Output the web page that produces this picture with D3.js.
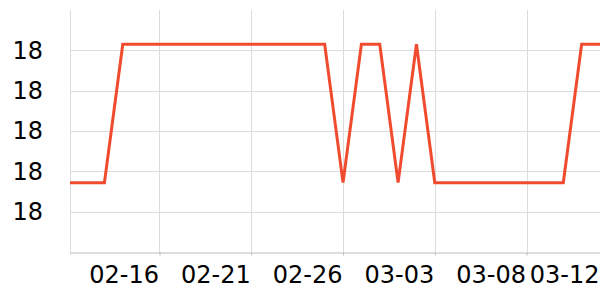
<!DOCTYPE html>
<html>
<head>
<meta charset="utf-8">
<script src="https://cdn.jsdelivr.net/npm/d3@7"></script>
<style>
  body { margin: 0; background: #fff; }
  text { font-family: "DejaVu Sans", sans-serif; }
</style>
</head>
<body>
<script>
// daily readings, 02-11 .. 03-12
var dates = ["02-11","02-12","02-13","02-14","02-15","02-16","02-17","02-18","02-19","02-20",
             "02-21","02-22","02-23","02-24","02-25","02-26","02-27","02-28","03-01","03-02",
             "03-03","03-04","03-05","03-06","03-07","03-08","03-09","03-10","03-11","03-12"];
var values = [18.0172,18.0172,18.0172,18.0515,18.0515,18.0515,18.0515,18.0515,18.0515,18.0515,
              18.0515,18.0515,18.0515,18.0515,18.0515,18.0172,18.0515,18.0515,18.0172,18.0515,
              18.0172,18.0172,18.0172,18.0172,18.0172,18.0172,18.0172,18.0172,18.0515,18.0515];
var yTicks = [18.01, 18.02, 18.03, 18.04, 18.05];
var xTickLabels = ["02-16","02-21","02-26","03-03","03-08","03-12"];

var width = 600, height = 300;
var margin = {top: 10, right: 0, bottom: 48, left: 70};
var parse = d3.timeParse("%Y-%m-%d");
var data = dates.map(function(d, i) { return {date: parse("2023-" + d), value: values[i]}; });

var svg = d3.select("body").append("svg")
    .attr("width", width)
    .attr("height", height);

var start = d3.timeHour.offset(data[0].date, 3.4);
var x = d3.scaleTime()
    .domain([start, data[data.length - 1].date])
    .range([margin.left, width - margin.right]);
var y = d3.scaleLinear()
    .domain([18.0, 18.06])
    .range([height - margin.bottom, margin.top]);

var tickDates = xTickLabels.map(function(d) { return parse("2023-" + d); });

// grid
svg.append("g").selectAll("line").data(yTicks).enter().append("line")
    .attr("x1", margin.left).attr("x2", width - margin.right)
    .attr("y1", function(d) { return Math.round(y(d)) + 0.5; })
    .attr("y2", function(d) { return Math.round(y(d)) + 0.5; })
    .attr("stroke", "#dcdcdc");
svg.append("g").selectAll("line").data(tickDates).enter().append("line")
    .attr("x1", function(d) { return Math.round(x(d)) + 0.5; })
    .attr("x2", function(d) { return Math.round(x(d)) + 0.5; })
    .attr("y1", margin.top).attr("y2", height - margin.bottom)
    .attr("stroke", "#dcdcdc");
svg.append("line")
    .attr("x1", margin.left + 0.5).attr("x2", margin.left + 0.5)
    .attr("y1", margin.top).attr("y2", height - margin.bottom + 3)
    .attr("stroke", "#dcdcdc");

// x axis
var xAxis = d3.axisBottom(x)
    .tickValues(tickDates)
    .tickFormat(d3.timeFormat("%m-%d"))
    .tickSize(3)
    .tickSizeOuter(0);
var gx = svg.append("g")
    .attr("transform", "translate(0," + (Math.round(y(18.0)) + 0.5) + ")")
    .call(xAxis);
gx.select(".domain").attr("stroke", "#bbbbbb");
gx.selectAll(".tick line").attr("stroke", "#bbbbbb");
gx.selectAll(".tick text")
    .attr("text-anchor", "end")
    .attr("dx", "-1")
    .attr("y", 30)
    .attr("dy", 0)
    .attr("font-size", 24)
    .attr("font-family", "DejaVu Sans, sans-serif")
    .attr("fill", "#000");

// y axis labels
var yAxis = d3.axisLeft(y)
    .tickValues(yTicks)
    .tickFormat(d3.format(".0f"))
    .tickSize(0)
    .tickPadding(27);
var gy = svg.append("g")
    .attr("transform", "translate(" + margin.left + ",0)")
    .call(yAxis);
gy.select(".domain").remove();
gy.selectAll(".tick text")
    .attr("font-size", 24)
    .attr("font-family", "DejaVu Sans, sans-serif")
    .attr("fill", "#000");

// line
svg.append("clipPath").attr("id", "clip")
  .append("rect")
    .attr("x", margin.left).attr("y", 0)
    .attr("width", width - margin.left - margin.right)
    .attr("height", height);

var line = d3.line()
    .x(function(d) { return x(d.date); })
    .y(function(d) { return y(d.value); });

svg.append("path")
    .datum(data)
    .attr("clip-path", "url(#clip)")
    .attr("fill", "none")
    .attr("stroke", "#f04b2e")
    .attr("stroke-width", 3)
    .attr("stroke-linejoin", "miter")
    .attr("d", line);
</script>
</body>
</html>
